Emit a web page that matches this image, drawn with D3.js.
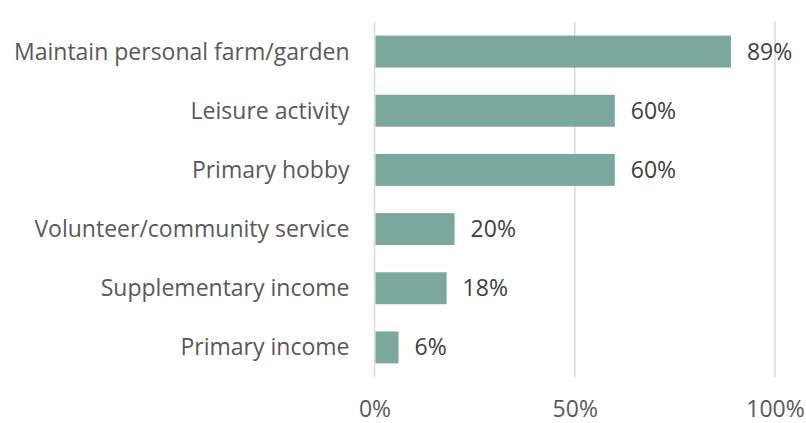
<!DOCTYPE html>
<html>
<head>
<meta charset="utf-8">
<script src="https://cdn.jsdelivr.net/npm/d3@7"></script>
<style>
  html, body { margin: 0; padding: 0; background: #fff; }
  svg { display: block; font-family: "Open Sans", sans-serif; }
</style>
</head>
<body>
<svg id="chart" width="806" height="423"></svg>
<script>
// Reasons for keeping the farm/garden, share of respondents
const categories = [
  "Maintain personal farm/garden",
  "Leisure activity",
  "Primary hobby",
  "Volunteer/community service",
  "Supplementary income",
  "Primary income"
];
const values = [89, 60, 60, 20, 18, 6];
const tickValues = [0, 50, 100];

const font = "'Open Sans', sans-serif";
const fontSize = 23;

const svg = d3.select("#chart");
const margin = { top: 22, right: 31, bottom: 46, left: 374.5 };
const width = 806 - margin.left - margin.right;
const height = 423 - margin.top - margin.bottom;

const x = d3.scaleLinear().domain([0, 100]).range([0, width]);
const y = d3.scaleBand().domain(categories).range([0, height]).paddingInner(0.46).paddingOuter(0.23);

const g = svg.append("g").attr("transform", `translate(${margin.left},${margin.top})`);

// vertical gridlines
g.append("g")
  .selectAll("line")
  .data(tickValues)
  .join("line")
  .attr("x1", d => x(d)).attr("x2", d => x(d))
  .attr("y1", 0).attr("y2", height)
  .attr("stroke", "#d9d9d9")
  .attr("stroke-width", 1.5);

// bars
g.append("g")
  .selectAll("rect")
  .data(values)
  .join("rect")
  .attr("x", x(0) + 1)
  .attr("y", (d, i) => y(categories[i]))
  .attr("width", d => x(d) - x(0) - 1)
  .attr("height", y.bandwidth())
  .attr("fill", "#7ba89c");

// value labels
g.append("g")
  .selectAll("text")
  .data(values)
  .join("text")
  .attr("x", d => x(d) + 16)
  .attr("y", (d, i) => y(categories[i]) + y.bandwidth() / 2)
  .attr("dy", "0.35em")
  .attr("fill", "#404040")
  .attr("font-size", fontSize)
  .attr("font-family", font)
  .text(d => d + "%");

// category axis labels
const yAxis = d3.axisLeft(y).tickSize(0).tickPadding(25);
const ya = g.append("g").call(yAxis);
ya.select(".domain").remove();
ya.selectAll("text")
  .attr("fill", "#595959")
  .attr("font-size", fontSize)
  .attr("font-family", font)
  .attr("dy", "0.35em");

// x axis tick labels
const xAxis = d3.axisBottom(x).tickValues(tickValues).tickSize(0).tickFormat(d => d + "%");
const xa = g.append("g").attr("transform", `translate(0,${height})`).call(xAxis);
xa.select(".domain").remove();
xa.selectAll("text")
  .attr("fill", "#595959")
  .attr("font-size", fontSize)
  .attr("font-family", font)
  .attr("y", 40)
  .attr("dy", 0);
</script>
</body>
</html>
